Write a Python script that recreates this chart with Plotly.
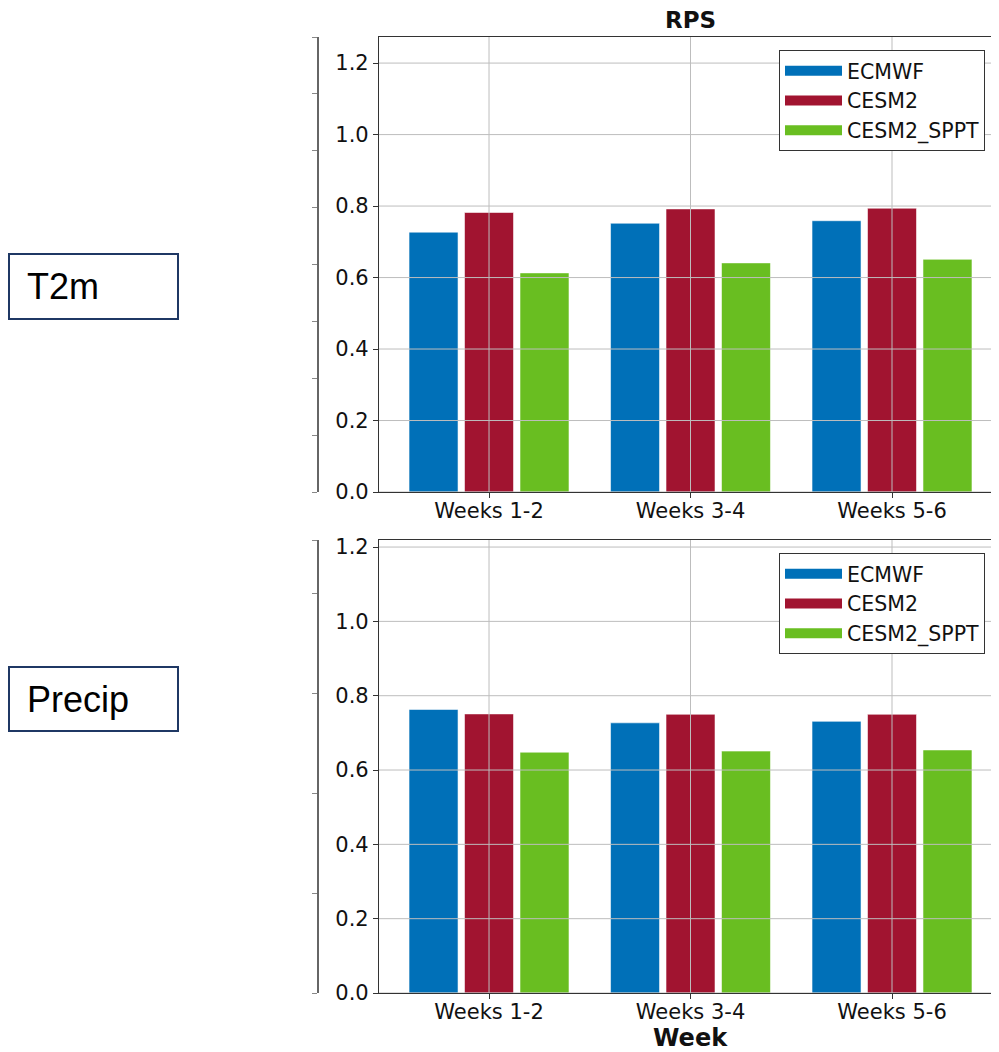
import plotly.graph_objects as go

weeks = ["Weeks 1-2", "Weeks 3-4", "Weeks 5-6"]
models = ["ECMWF", "CESM2", "CESM2_SPPT"]
colors = ["#0070b8", "#a11430", "#69be21"]
yticks = [0, 0.2, 0.4, 0.6, 0.8, 1.0, 1.2]

t2m_ecmwf = [0.727, 0.752, 0.759]
t2m_cesm2 = [0.782, 0.792, 0.794]
t2m_sppt = [0.613, 0.641, 0.651]

pr_ecmwf = [0.763, 0.727, 0.731]
pr_cesm2 = [0.751, 0.750, 0.750]
pr_sppt = [0.648, 0.651, 0.654]

panels = [("T2m", [t2m_ecmwf, t2m_cesm2, t2m_sppt]),
          ("Precip", [pr_ecmwf, pr_cesm2, pr_sppt])]

OFF = 8                      # page body margin
W, H = 999 - OFF, 1052 - OFF
MT, MB = 37 - OFF, 1052 - 993
PH = H - MT - MB


def py(y_px):  # screenshot y -> paper y
    return (993 - y_px) / PH


def px(x_px):  # screenshot x -> paper x
    return (x_px - OFF) / W


FONT = "DejaVu Sans"
GRID = "#bdbdbd"
fig = go.Figure()

for p, (label, series) in enumerate(panels):
    xa = "x" if p == 0 else "x2"
    ya = "y" if p == 0 else "y2"
    lg = "legend" if p == 0 else "legend2"
    for name, vals, col in zip(models, series, colors):
        fig.add_trace(go.Bar(
            x=weeks, y=vals, name=name, xaxis=xa, yaxis=ya,
            marker=dict(color=col, line=dict(color="rgba(255,255,255,0.55)", width=1)),
            showlegend=False, legendgroup=f"{label}{name}"))
        fig.add_trace(go.Scatter(
            x=[None], y=[None], mode="lines", name=name, xaxis=xa, yaxis=ya,
            line=dict(color=col, width=12), legend=lg,
            legendgroup=f"{label}{name}", showlegend=True))
    # gridlines drawn above the bars (as in the reference)
    for w in weeks:
        fig.add_shape(type="line", xref=xa, yref=f"{ya} domain", x0=w, x1=w, y0=0, y1=1,
                      line=dict(color=GRID, width=1), layer="above")
    for v in yticks:
        fig.add_shape(type="line", xref=f"{xa} domain", yref=ya, x0=0, x1=1, y0=v, y1=v,
                      line=dict(color=GRID, width=1), layer="above")

axis_common = dict(
    showline=True, linecolor="#333333", linewidth=1.2,
    ticks="outside", ticklen=5, tickcolor="#333333",
    showgrid=False, layer="above traces", zeroline=False,
    tickfont=dict(family=FONT, size=21, color="#111111"),
)

xdom = [px(379), 1.0]
xrange_ = [-0.546, 2.531]

legend_common = dict(xanchor="left", yanchor="top",
                     bgcolor="white", bordercolor="#333333", borderwidth=1,
                     font=dict(family=FONT, size=20.5, color="#111111"),
                     itemwidth=57, tracegroupgap=0)

fig.update_layout(
    width=W, height=H,
    margin=dict(l=0, r=0, t=MT, b=MB),
    paper_bgcolor="white", plot_bgcolor="white",
    barmode="group", bargap=0.174, bargroupgap=0.117,
    font=dict(family=FONT, size=20, color="#111111"),
    xaxis=dict(domain=xdom, anchor="y", range=xrange_, mirror=True,
               ticklabelstandoff=-5, **axis_common),
    yaxis=dict(domain=[py(492), 1.0], anchor="x", range=[0, 1.273],
               tickvals=yticks, tickformat=".1f", **axis_common),
    xaxis2=dict(domain=xdom, anchor="y2", range=xrange_, mirror=True,
                ticklabelstandoff=-5, **axis_common),
    yaxis2=dict(domain=[0.0, py(540)], anchor="x2", range=[0, 1.219],
                tickvals=yticks, tickformat=".1f", **axis_common),
    yaxis3=dict(overlaying="y", anchor="free", position=px(318), side="left",
                range=[0, 8], tickvals=[0, 1, 2, 3, 4, 5, 6, 7, 8], showticklabels=False,
                showline=True, linecolor="#666666", linewidth=1.5, ticks="outside",
                ticklen=5, tickcolor="#888888", showgrid=False, zeroline=False),
    yaxis4=dict(overlaying="y2", anchor="free", position=px(318), side="left",
                range=[0, 4.53], tickvals=[0, 1, 2, 3, 4, 4.53], showticklabels=False,
                showline=True, linecolor="#666666", linewidth=1.5, ticks="outside",
                ticklen=5, tickcolor="#888888", showgrid=False, zeroline=False),
    legend=dict(x=px(779), y=py(50), **legend_common),
    legend2=dict(x=px(779), y=py(553), **legend_common),
)

# invisible traces so the bracket axes are drawn
fig.add_trace(go.Scatter(x=[None], y=[None], yaxis="y3", xaxis="x", showlegend=False))
fig.add_trace(go.Scatter(x=[None], y=[None], yaxis="y4", xaxis="x2", showlegend=False))

# left-hand labelled boxes
boxes = [("T2m", 254, 319, 25), ("Precip", 667, 731, 25)]
for text, y0, y1, tx in boxes:
    fig.add_shape(type="rect", xref="paper", yref="paper",
                  x0=px(9), x1=px(178), y0=py(y1), y1=py(y0),
                  line=dict(color="#1f3864", width=2), fillcolor="rgba(0,0,0,0)")
    fig.add_annotation(x=px(tx), y=py((y0 + y1) / 2), xref="paper", yref="paper",
                       xanchor="left", yanchor="middle", showarrow=False, text=text,
                       font=dict(family="Liberation Sans", size=36, color="black"))

fig.add_annotation(x=px(690), y=py(20), xref="paper", yref="paper", showarrow=False,
                   xanchor="center", yanchor="middle",
                   text="<b>RPS</b>", font=dict(family=FONT, size=23, color="#111111"))
fig.add_annotation(x=px(690), y=py(1038), xref="paper", yref="paper", showarrow=False,
                   xanchor="center", yanchor="middle",
                   text="<b>Week</b>", font=dict(family=FONT, size=24, color="#111111"))

fig.write_html("out.html")
